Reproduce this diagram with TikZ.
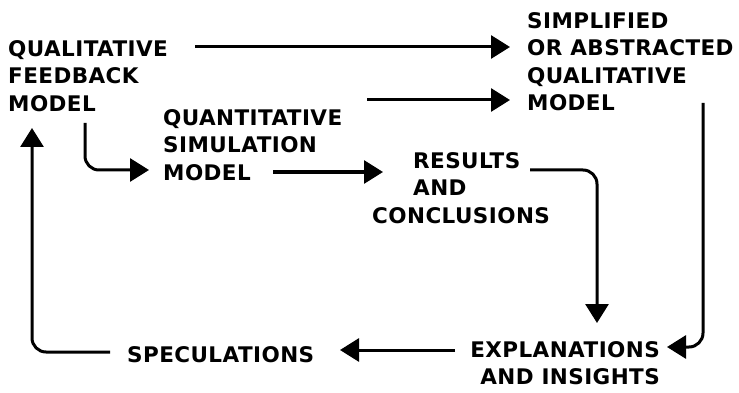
\documentclass[tikz,border=0pt]{standalone}
\usepackage{fontspec}
\newfontfamily\diagfont[LetterSpace=2]{DejaVu Sans}
\usetikzlibrary{arrows.meta,positioning,calc}

\begin{document}
\begin{tikzpicture}[x=1pt, y=-1pt,
        block/.style={inner sep=0pt, align=left, font=\diagfont\bfseries\fontsize{21.5}{27.5}\selectfont},
        flow/.style={line width=3pt, rounded corners=14pt, -{Triangle[length=19pt,width=23pt]}}]
    \useasboundingbox (0,0) rectangle (739,393);

    \node[block, anchor=north west] (qfm) at (8,40) {QUALITATIVE\\FEEDBACK\\MODEL};
    \node[block, anchor=north west] (qsm) at (163,109) {QUANTITATIVE\\SIMULATION\\MODEL};
    \node[block, anchor=north west] (sam) at (527,12) {SIMPLIFIED\\OR ABSTRACTED\\QUALITATIVE\\MODEL};
    \node[block, anchor=north west] (rac) at (372,152) {\hspace*{41pt}RESULTS\\\hspace*{41pt}AND\\CONCLUSIONS};
    \node[block, align=right, anchor=north east] (eai) at (660,341) {EXPLANATIONS\\AND INSIGHTS};
    \node[block, anchor=north west] (spec) at (127,346) {SPECULATIONS};

    \draw[flow] ($(qfm.north west)+(187,7)$) -- ($(sam.north west)+(-17,35)$);
    \draw[flow] ($(qsm.north west)+(204,-9)$) -- ($(sam.north west)+(-17,88)$);
    \draw[flow] ($(qfm.north west)+(77,83)$) |- ($(qsm.north west)+(-14,61)$);
    \draw[flow] ($(qsm.north west)+(110,63)$) -- ($(rac.north west)+(11,20)$);
    \draw[flow] ($(rac.north west)+(158,18)$) -| ($(eai.north east)+(-63,-18)$);
    \draw[flow] ($(sam.north west)+(176,91)$) |- ($(eai.north east)+(7,6)$);
    \draw[flow] ($(eai.north east)+(-205,9)$) -- ($(spec.north west)+(213,4)$);
    \draw[flow] ($(spec.north west)+(-17,6)$) -| ($(qfm.north west)+(24,88)$);
\end{tikzpicture}
\end{document}
